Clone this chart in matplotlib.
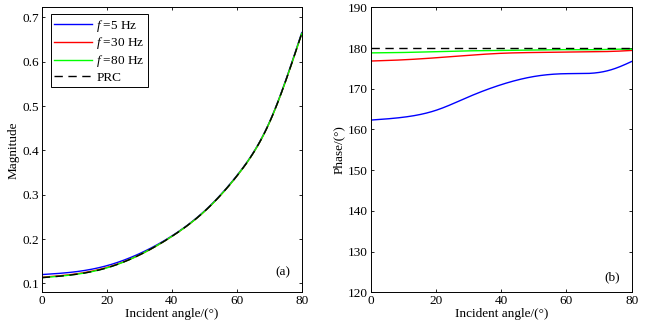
import numpy as np
import matplotlib
matplotlib.use("Agg")
import matplotlib.pyplot as plt

plt.rcParams['font.family'] = ['Liberation Serif', 'DejaVu Serif']
plt.rcParams['mathtext.fontset'] = 'custom'
plt.rcParams['mathtext.it'] = 'Liberation Serif:italic'
plt.rcParams['mathtext.rm'] = 'Liberation Serif'

# incidence angles (degrees)
angle = [0, 10, 20, 30, 40, 50, 60, 70, 80]

# reflection coefficient magnitude
mag_prc = [0.113, 0.120, 0.135, 0.164, 0.206, 0.262, 0.342, 0.462, 0.664]
mag_5hz = [0.120, 0.126, 0.140, 0.167, 0.207, 0.263, 0.343, 0.463, 0.666]
mag_30hz = [0.114, 0.121, 0.136, 0.164, 0.206, 0.262, 0.342, 0.462, 0.664]
mag_80hz = [0.113, 0.120, 0.135, 0.164, 0.206, 0.262, 0.342, 0.462, 0.664]

# reflection coefficient phase (degrees)
angle_ph = [0, 10, 20, 30, 40, 50, 60, 70, 75, 80]
ph_prc = [180.0, 180.0, 180.0, 180.0, 180.0, 180.0, 180.0, 180.0, 180.0, 180.0]
ph_5hz = [162.3, 163.0, 164.7, 168.0, 171.0, 173.0, 173.7, 174.0, 175.0, 176.7]
ph_30hz = [176.8, 177.1, 177.6, 178.2, 178.7, 178.9, 179.0, 179.1, 179.2, 179.4]
ph_80hz = [178.8, 178.9, 179.1, 179.3, 179.4, 179.5, 179.6, 179.6, 179.7, 179.7]

labels = ['$f$ =5 Hz', '$f$ =30 Hz', '$f$ =80 Hz', 'PRC']
colors = ['#0000ff', '#ff0000', '#00ff00', 'black']

fs = 9.5


def spline(x, y, n=321):
    """Natural cubic spline through the given points."""
    x = np.asarray(x, float)
    y = np.asarray(y, float)
    k = len(x)
    h = np.diff(x)
    A = np.zeros((k, k))
    b = np.zeros(k)
    A[0, 0] = A[-1, -1] = 1.0
    for i in range(1, k - 1):
        A[i, i - 1] = h[i - 1]
        A[i, i] = 2 * (h[i - 1] + h[i])
        A[i, i + 1] = h[i]
        b[i] = 6 * ((y[i + 1] - y[i]) / h[i] - (y[i] - y[i - 1]) / h[i - 1])
    M = np.linalg.solve(A, b)
    xs = np.linspace(x[0], x[-1], n)
    idx = np.clip(np.searchsorted(x, xs) - 1, 0, k - 2)
    hi = h[idx]
    a = x[idx + 1] - xs
    c = xs - x[idx]
    ys = (M[idx] * a**3 + M[idx + 1] * c**3) / (6 * hi) \
        + (y[idx] / hi - M[idx] * hi / 6) * a \
        + (y[idx + 1] / hi - M[idx + 1] * hi / 6) * c
    return xs, ys


fig = plt.figure(figsize=(6.55, 3.24), dpi=100)
ax1 = fig.add_axes([0.0637, 0.0978, 0.397, 0.8797])
ax2 = fig.add_axes([0.566, 0.0978, 0.3985, 0.8797])

mags = [mag_5hz, mag_30hz, mag_80hz]
phs = [ph_5hz, ph_30hz, ph_80hz]
for y, c, lab in zip(mags, colors[:3], labels[:3]):
    ax1.plot(*spline(angle, y), color=c, lw=1.0, label=lab)
ax1.plot(*spline(angle, mag_prc), color='black', lw=1.0, ls=(0, (6, 4)), label=labels[3])

for y, c in zip(phs, colors[:3]):
    ax2.plot(*spline(angle_ph, y), color=c, lw=1.0)
ax2.plot(angle_ph, ph_prc, color='black', lw=1.0, ls=(0, (6, 4)))

ax1.set_xlim(0, 80)
ax1.set_ylim(0.08, 0.723)
ax1.set_yticks([0.1, 0.2, 0.3, 0.4, 0.5, 0.6, 0.7])
ax1.set_ylabel('Magnitude', fontsize=fs, labelpad=2)
ax1.text(0.955, 0.05, '(a)', transform=ax1.transAxes, ha='right', va='bottom', fontsize=fs)

ax2.set_xlim(0, 80)
ax2.set_ylim(120, 190)
ax2.set_yticks(range(120, 191, 10))
ax2.set_ylabel('Phase/(°)', fontsize=fs, labelpad=2)
ax2.text(0.955, 0.03, '(b)', transform=ax2.transAxes, ha='right', va='bottom', fontsize=fs)

for ax in (ax1, ax2):
    ax.set_xticks([0, 20, 40, 60, 80])
    ax.set_xlabel('Incident angle/(°)', fontsize=fs, labelpad=1)
    ax.tick_params(direction='in', length=2.5, width=0.6, labelsize=fs, pad=2,
                   top=True, right=True)
    for s in ax.spines.values():
        s.set_linewidth(0.7)

leg = ax1.legend(loc='upper left', bbox_to_anchor=(0.025, 0.985), fontsize=fs,
                 frameon=True, fancybox=False, edgecolor='black', framealpha=1,
                 handlelength=2.9, handletextpad=0.3, borderpad=0.25, labelspacing=0.15,
                 borderaxespad=0.2)
leg.get_frame().set_linewidth(0.7)

fig.savefig('out.png', dpi=100)
